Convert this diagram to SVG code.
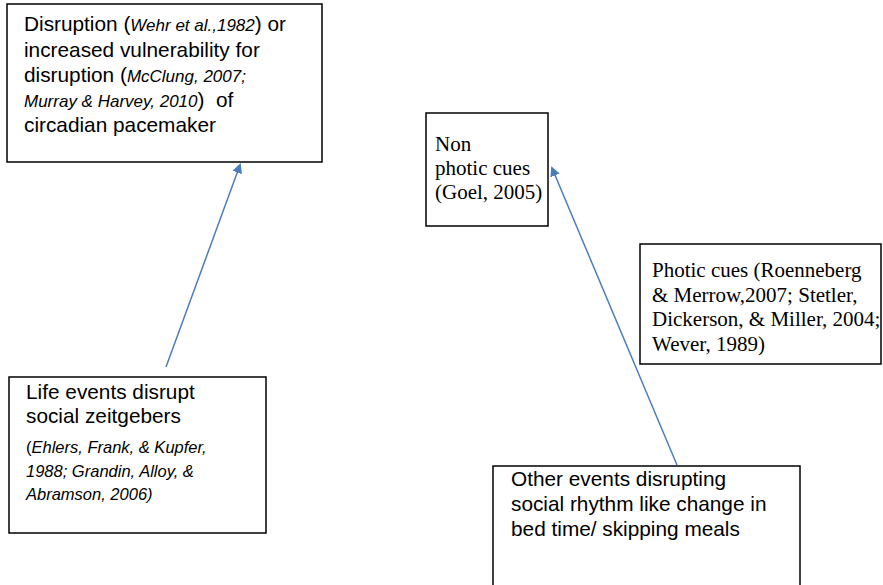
<svg xmlns="http://www.w3.org/2000/svg" width="883" height="585" viewBox="0 0 883 585">
<style>
.box{fill:#fff;stroke:#000;stroke-width:1.5}
.sans{font-family:"Liberation Sans",Arial,sans-serif;font-size:20.8px;fill:#000}
.it{font-style:italic;font-size:16.5px}
.it17{font-style:italic;font-size:17px}
.up{font-style:normal}
.serif{font-family:"Liberation Serif","Times New Roman",serif;font-size:21px;fill:#000}
.conn{stroke:#4a7ebb;stroke-width:1.5;fill:none}
</style>
<defs>
<marker id="ah" markerWidth="10" markerHeight="10" refX="8" refY="5" orient="auto" markerUnits="userSpaceOnUse">
<path d="M0,0 L10,5 L0,10 z" fill="#4a7ebb"/>
</marker>
</defs>
<rect width="883" height="585" fill="#fff"/>
<g id="node-disruption">
<rect class="box" x="7" y="4" width="315" height="158"/>
<text class="sans" x="24" y="31">Disruption (<tspan class="it17">Wehr et al.,1982</tspan>) or</text>
<text class="sans" x="24" y="57">increased vulnerability for</text>
<text class="sans" x="24" y="82">disruption (<tspan class="it17">McClung, 2007;</tspan></text>
<text class="sans" x="24" y="107" xml:space="preserve"><tspan class="it17">Murray &amp; Harvey, 2010</tspan>)  of</text>
<text class="sans" x="24" y="132">circadian pacemaker</text>
</g>
<g id="node-nonphotic">
<rect class="box" x="426" y="113" width="122" height="113"/>
<text class="serif" x="435" y="151">Non</text>
<text class="serif" x="435" y="175">photic cues</text>
<text class="serif" x="435" y="199">(Goel, 2005)</text>
</g>
<g id="node-photic">
<rect class="box" x="640" y="244" width="241" height="120"/>
<text class="serif" x="652" y="277">Photic cues (Roenneberg</text>
<text class="serif" x="652" y="302">&amp; Merrow,2007; Stetler,</text>
<text class="serif" x="652" y="326">Dickerson, &amp; Miller, 2004;</text>
<text class="serif" x="652" y="351">Wever, 1989)</text>
</g>
<g id="node-lifeevents">
<rect class="box" x="9" y="377" width="257" height="156"/>
<text class="sans" x="26" y="399">Life events disrupt</text>
<text class="sans" x="26" y="423">social zeitgebers</text>
<text class="sans it" x="26" y="453"><tspan class="up">(</tspan>Ehlers, Frank, &amp; Kupfer,</text>
<text class="sans it" x="26" y="477">1988; Grandin, Alloy, &amp;</text>
<text class="sans it" x="26" y="500">Abramson, 2006)</text>
</g>
<g id="node-otherevents">
<rect class="box" x="493" y="466" width="307" height="130"/>
<text class="sans" x="511" y="486">Other events disrupting</text>
<text class="sans" x="511" y="511">social rhythm like change in</text>
<text class="sans" x="511" y="536">bed time/ skipping meals</text>
</g>
<g id="connectors">
<line class="conn" x1="166" y1="367" x2="240" y2="165" marker-end="url(#ah)"/>
<line class="conn" x1="677" y1="465" x2="552" y2="168" marker-end="url(#ah)"/>
</g>
</svg>
